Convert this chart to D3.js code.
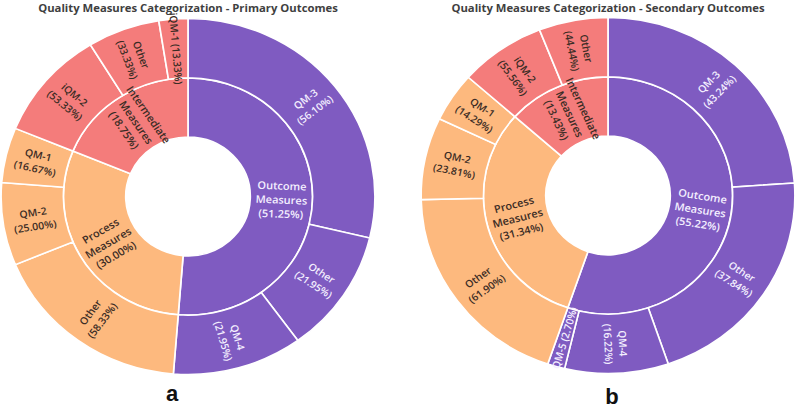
<!DOCTYPE html>
<html><head><meta charset="utf-8">
<script src="https://cdn.jsdelivr.net/npm/d3@7"></script>
<style>
html,body{margin:0;padding:0;background:#fff;}
svg{display:block;}
</style></head>
<body>
<svg id="chart" width="797" height="409"></svg>
<script>
// ---- data ----
const categories = ["Outcome Measures", "Process Measures", "Intermediate Measures"];
const titles = ["Quality Measures Categorization - Primary Outcomes",
                "Quality Measures Categorization - Secondary Outcomes"];
const panelLetters = ["a", "b"];

// Primary outcomes (counts)
const primaryOutcomeNames = ["QM-3", "Other", "QM-4"];
const primaryOutcomeValues = [23, 9, 9];
const primaryProcessNames = ["Other", "QM-2", "QM-1"];
const primaryProcessValues = [14, 6, 4];
const primaryIntermediateNames = ["iQM-2", "Other", "iQM-1"];
const primaryIntermediateValues = [8, 5, 2];

// Secondary outcomes (counts)
const secondaryOutcomeNames = ["QM-3", "Other", "QM-4", "QM-5"];
const secondaryOutcomeValues = [16, 14, 6, 1];
const secondaryProcessNames = ["Other", "QM-2", "QM-1"];
const secondaryProcessValues = [13, 5, 3];
const secondaryIntermediateNames = ["iQM-2", "Other"];
const secondaryIntermediateValues = [5, 4];

const colors = ["#7f5bc1", "#fdb97e", "#f47c7b"];
const textColors = ["#f4efff", "#3b2c25", "#3b2c25"];

// ---- build ----
function build(groups) {
  return {
    name: "root",
    children: categories.map((c, i) => ({
      name: c, cat: i,
      children: groups[i][0].map((n, j) => ({ name: n, cat: i, value: groups[i][1][j] }))
    }))
  };
}
const datasets = [
  build([[primaryOutcomeNames, primaryOutcomeValues],
         [primaryProcessNames, primaryProcessValues],
         [primaryIntermediateNames, primaryIntermediateValues]]),
  build([[secondaryOutcomeNames, secondaryOutcomeValues],
         [secondaryProcessNames, secondaryProcessValues],
         [secondaryIntermediateNames, secondaryIntermediateValues]])
];

const svg = d3.select("#chart");
const centers = [[188, 196.5], [608, 195.5]];
const R = 178;
const xStretch = 1.05;
const letterPos = [[172, 401], [612, 404]];

const rScale = d3.scaleLinear().domain([0, 3]).range([0, R]);
const arc = d3.arc()
  .startAngle(d => d.x0).endAngle(d => d.x1)
  .innerRadius(d => rScale(d.y0)).outerRadius(d => rScale(d.y1));

datasets.forEach((data, k) => {
  const root = d3.hierarchy(data).sum(d => d.value || 0);
  d3.partition().size([2 * Math.PI, 3])(root);
  const nodes = root.descendants().filter(d => d.depth > 0);

  const [cx, cy] = centers[k];
  const g = svg.append("g").attr("transform", `translate(${cx},${cy}) scale(${xStretch},1)`);

  g.selectAll("path").data(nodes).join("path")
    .attr("d", arc)
    .attr("fill", d => colors[d.data.cat])
    .attr("stroke", "#fff")
    .attr("stroke-width", 1.6);

  const fmt = d3.format(".2f");
  const labels = g.selectAll("g.lab").data(nodes).join("g").attr("class", "lab")
    .attr("transform", d => {
      const a = (d.x0 + d.x1) / 2;
      const r = rScale((d.y0 + d.y1) / 2);
      let rot = a * 180 / Math.PI - 90;
      if (rot > 90) rot -= 180;
      if (rot < -90) rot += 180;
      return `translate(${r * Math.sin(a)},${-r * Math.cos(a)}) rotate(${rot})`;
    });

  labels.each(function (d) {
    const pct = "(" + fmt(d.value / d.parent.value * 100) + "%)";
    const span = (d.x1 - d.x0) * 180 / Math.PI;
    let lines;
    if (span < 12) lines = [d.data.name + " " + pct];
    else lines = d.data.name.split(" ").concat([pct]);
    const lh = 14;
    const t = d3.select(this).append("text")
      .attr("text-anchor", "middle")
      .attr("font-family", "'Open Sans', sans-serif")
      .attr("font-weight", 600)
      .attr("font-size", d.depth === 1 ? 10.5 : 10)
      .attr("fill", textColors[d.data.cat]);
    lines.forEach((ln, i) => {
      t.append("tspan").attr("x", 0)
        .attr("y", (i - (lines.length - 1) / 2) * lh)
        .attr("dy", "0.35em")
        .text(ln);
    });
  });

  svg.append("text")
    .attr("x", cx).attr("y", 12)
    .attr("text-anchor", "middle")
    .attr("font-family", "'Open Sans', sans-serif")
    .attr("font-weight", 700)
    .attr("font-size", 11.3)
    .attr("fill", "#3f3f3f")
    .text(titles[k]);

  svg.append("text")
    .attr("x", letterPos[k][0]).attr("y", letterPos[k][1])
    .attr("text-anchor", "middle")
    .attr("font-family", "Arial, 'Liberation Sans', sans-serif")
    .attr("font-weight", 700)
    .attr("font-size", 22)
    .attr("fill", "#111")
    .text(panelLetters[k]);
});
</script>
</body></html>
